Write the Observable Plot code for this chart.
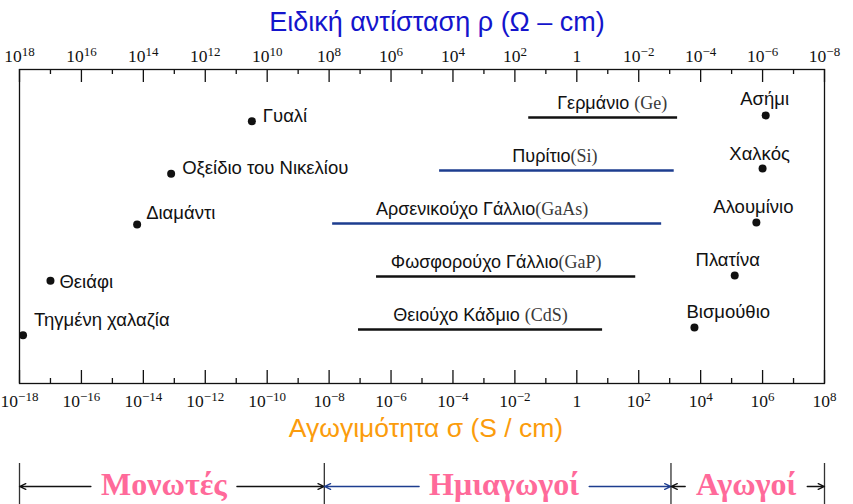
<!DOCTYPE html>
<html>
<head>
<meta charset="utf-8">
<script src="https://cdn.jsdelivr.net/npm/d3@7"></script>
<script src="https://cdn.jsdelivr.net/npm/@observablehq/plot@0.6"></script>
<style>
  html, body { margin: 0; padding: 0; background: #ffffff; }
  #chart { width: 853px; }
  #chart svg { display: block; background: #ffffff; }
</style>
</head>
<body>
<div id="chart"></div>
<script>
// ---------- data ----------
const majorExponents = [-18, -16, -14, -12, -10, -8, -6, -4, -2, 0, 2, 4, 6, 8];
const minorExponents = [-17, -15, -13, -11, -9, -7, -5, -3, -1, 1, 3, 5, 7];

const titleText = "Ειδική αντίσταση ρ (Ω – cm)";
const xLabelText = "Αγωγιμότητα σ (S / cm)";

// semiconductor ranges (conductivity, S/cm)
const semiLabels = ["Γερμάνιο (Ge)", "Πυρίτιο(Si)", "Αρσενικούχο Γάλλιο(GaAs)", "Φωσφορούχο Γάλλιο(GaP)", "Θειούχο Κάδμιο (CdS)"];
const semiIds = ["Ge", "Si", "GaAs", "GaP", "CdS"];
const semiRow = [0, 1, 2, 3, 4];
const semiLow = [2.8e-2, 3.7e-5, 1.3e-8, 3.4e-7, 8.9e-8];
const semiHigh = [1.8e3, 1.4e3, 5.5e2, 80, 6.8];

// insulators (left points)
const insNames = ["Γυαλί", "Οξείδιο του Νικελίου", "Διαμάντι", "Θειάφι", "Τηγμένη χαλαζία"];
const insSigma = [3.2e-11, 7.9e-14, 6.3e-15, 1.0e-17, 1.3e-18];
const insRow = [0.07, 1.06, 2.02, 3.08, 4.11];

// conductors (right points)
const condNames = ["Ασήμι", "Χαλκός", "Αλουμίνιο", "Πλατίνα", "Βισμούθιο"];
const condSigma = [1.26e6, 1.0e6, 6.3e5, 1.26e5, 6.3e3];
const condRow = [-0.04, 0.96, 1.98, 2.98, 3.96];

// material classes along the conductivity axis
const regionNames = ["Μονωτές", "Ημιαγωγοί", "Αγωγοί"];
const regionLow = [1e-18, 7e-9, 1.1e3];
const regionHigh = [7e-9, 1.1e3, 1e8];

// ---------- tables ----------
const majors = majorExponents.map(e => 10 ** e);
const minors = minorExponents.map(e => 10 ** e);
const semis = semiLabels.map((label, i) => ({label, id: semiIds[i], row: semiRow[i], lo: semiLow[i], hi: semiHigh[i]}));
const insulators = insNames.map((name, i) => ({name, sigma: insSigma[i], row: insRow[i]}));
const conductors = condNames.map((name, i) => ({name, sigma: condSigma[i], row: condRow[i]}));
const regions = regionNames.map((name, i) => ({name, lo: regionLow[i], hi: regionHigh[i], mid: Math.sqrt(regionLow[i] * regionHigh[i])}));
const boundaries = [regionLow[0], ...regionHigh];

// ---------- styles ----------
const SANS = "Liberation Sans, Arial, sans-serif";
const SERIF = "Liberation Serif, Times New Roman, serif";
const INK = "#111111";
const NAVY = "#1d3d8f";
const lineColor = {Ge: INK, Si: NAVY, GaAs: NAVY, GaP: INK, CdS: INK};
const semiLabelDx = {Ge: 9, Si: -2, GaAs: -15, GaP: -10, CdS: 0};
const frameH = 314;

const powLabel = e => e === 0 ? "1" : "10^" + (e < 0 ? "\u2212" + (-e) : String(e));

const insOffsets = {"Γυαλί": [11, -5], "Οξείδιο του Νικελίου": [11, -6], "Διαμάντι": [9, -11], "Θειάφι": [9, 1.5], "Τηγμένη χαλαζία": [11, -15]};
const condOffsets = {"Ασήμι": [-1, -16, "middle"], "Χαλκός": [-3, -14, "middle"], "Αλουμίνιο": [-3, -15, "middle"], "Πλατίνα": [-7, -15, "middle"], "Βισμούθιο": [-8, -15, "start"]};

const xScale = {type: "log", domain: [1e-18, 1e8], axis: null};

const main = Plot.plot({
  width: 853, height: 458,
  marginTop: 69, marginBottom: 75, marginLeft: 19, marginRight: 29,
  x: xScale,
  y: {domain: [-0.906, 5.019], reverse: true, axis: null},
  color: {type: "identity"},
  marks: [
    Plot.frame({stroke: INK, strokeWidth: 1.3}),
    Plot.tickX(majors, {x: d => d, insetTop: frameH - 13, stroke: INK, strokeWidth: 1.3}),
    Plot.tickX(majors, {x: d => d, insetBottom: frameH - 13, stroke: INK, strokeWidth: 1.3}),
    Plot.tickX(minors, {x: d => d, insetTop: frameH - 5, stroke: INK, strokeWidth: 1.3}),
    Plot.tickX(minors, {x: d => d, insetBottom: frameH - 5, stroke: INK, strokeWidth: 1.3}),
    Plot.text(majorExponents, {x: e => 10 ** e, text: e => powLabel(e), frameAnchor: "bottom", lineAnchor: "middle", dy: 18, fontFamily: SERIF, fontSize: 17.5, fill: INK}),
    Plot.text(majorExponents, {x: e => 10 ** e, text: e => powLabel(-e), frameAnchor: "top", lineAnchor: "middle", dy: -13, fontFamily: SERIF, fontSize: 17.5, fill: INK}),
    Plot.text([titleText], {text: d => d, frameAnchor: "top", lineAnchor: "middle", dx: 15, dy: -47, fontFamily: SANS, fontSize: 27, fill: "#1414cc"}),
    Plot.text([xLabelText], {text: d => d, frameAnchor: "bottom", lineAnchor: "middle", dx: 4, dy: 45.5, fontFamily: SANS, fontSize: 26.5, fill: "#fb9c0c"}),
    Plot.ruleY(semis, {y: "row", x1: "lo", x2: "hi", stroke: d => lineColor[d.id], strokeWidth: 2.6}),
    ...semis.map(d => Plot.text([d], {x: d => Math.sqrt(d.lo * d.hi), y: "row", text: "label", dx: semiLabelDx[d.id], dy: -14.5, fontFamily: SANS, fontSize: 18, fill: INK})),
    Plot.dot(insulators, {x: "sigma", y: "row", r: 4, fill: INK, stroke: null}),
    Plot.dot(conductors, {x: "sigma", y: "row", r: 4, fill: INK, stroke: null}),
    ...insulators.map(d => Plot.text([d], {x: "sigma", y: "row", text: "name", textAnchor: "start",
      dx: insOffsets[d.name][0], dy: insOffsets[d.name][1], fontFamily: SANS, fontSize: 18.5, fill: INK})),
    ...conductors.map(d => Plot.text([d], {x: "sigma", y: "row", text: "name", textAnchor: condOffsets[d.name][2],
      dx: condOffsets[d.name][0], dy: condOffsets[d.name][1], fontFamily: SANS, fontSize: 18.5, fill: INK}))
  ]
});

// region label placement (label shift, half-width + gap)
const regionStyle = {
  "Μονωτές": {dx: -8, half: 73, color: INK},
  "Ημιαγωγοί": {dx: 6.5, half: 85, color: NAVY},
  "Αγωγοί": {dx: -1.5, half: 61, color: INK}
};

const bottom = Plot.plot({
  width: 853, height: 46,
  marginTop: 0, marginBottom: 0, marginLeft: 19, marginRight: 29,
  x: xScale,
  y: {type: "point", domain: ["band"], axis: null},
  marks: [
    Plot.ruleX(boundaries, {x: d => d, insetTop: 5, stroke: "#333", strokeWidth: 1.3}),
    ...regions.flatMap(r => {
      const s = regionStyle[r.name];
      return [
        Plot.arrow([r], {x1: "mid", x2: "lo", y: () => "band", dy: 5, insetStart: s.half - s.dx, stroke: s.color, strokeWidth: 1.3, headLength: 8, headAngle: 50}),
        Plot.arrow([r], {x1: "mid", x2: "hi", y: () => "band", dy: 5, insetStart: s.half + s.dx, stroke: s.color, strokeWidth: 1.3, headLength: 8, headAngle: 50})
      ];
    }),
    ...regions.map(r => Plot.text([r], {x: "mid", y: () => "band", text: "name", dx: regionStyle[r.name].dx, dy: 3.5,
      fontFamily: SERIF, fontWeight: "bold", fontSize: 32, fill: "#ff6a9a"}))
  ]
});

const host = document.getElementById("chart");
host.appendChild(main);
host.appendChild(bottom);

// typeset powers of ten and chemical formulas with tspans
d3.select(main).selectAll("text").each(function () {
  const t = this.textContent;
  let m = /^10\^(.+)$/.exec(t);
  if (m) {
    this.textContent = "";
    const s = d3.select(this);
    s.append("tspan").text("10");
    s.append("tspan").attr("dy", -6.5).attr("font-size", 13).text(m[1]);
    return;
  }
  m = /^(.*?)(\s?)(\([A-Za-z]+\))$/.exec(t);
  if (m) {
    this.textContent = "";
    const s = d3.select(this);
    s.append("tspan").text(m[1] + m[2]);
    s.append("tspan").attr("font-family", SERIF).attr("fill", "#3a3a3a").text(m[3]);
  }
});
</script>
</body>
</html>
